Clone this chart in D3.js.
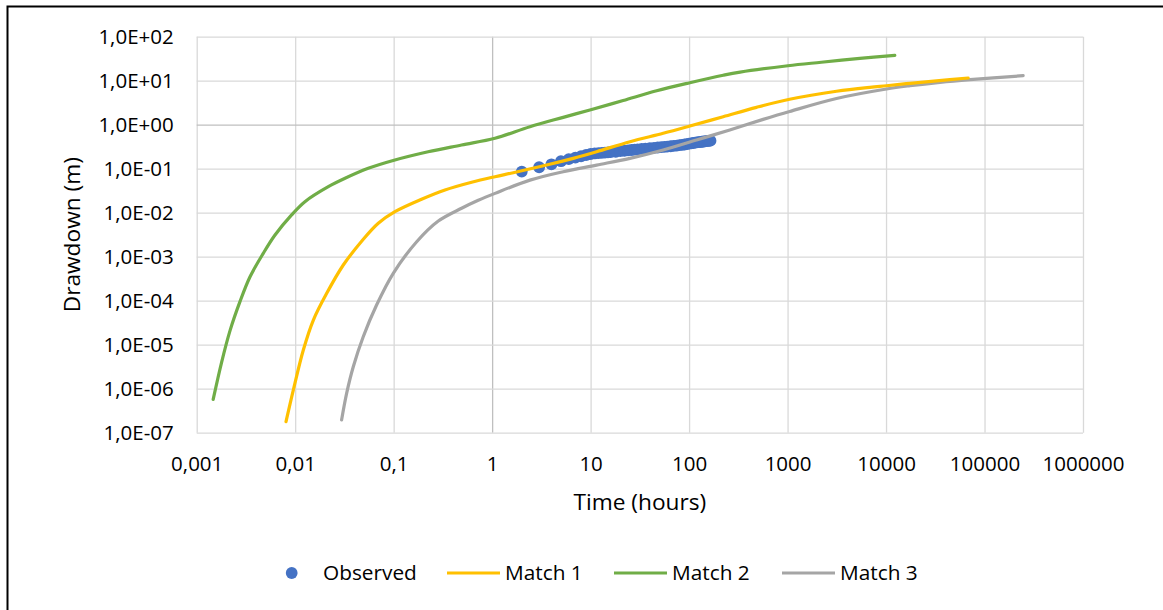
<!DOCTYPE html>
<html>
<head>
<meta charset="utf-8">
<script src="https://cdn.jsdelivr.net/npm/d3@7"></script>
<style>
  html, body { margin: 0; padding: 0; background: #fff; }
  svg { display: block; font-family: "Open Sans", sans-serif; }
  .tick text { fill: #000; }
</style>
</head>
<body>
<svg id="chart" width="1163" height="610"></svg>
<script>
// tick values and their labels (comma decimals as in the original)
const xTicks = [0.001, 0.01, 0.1, 1, 10, 100, 1000, 10000, 100000, 1000000];
const xTickLabels = ['0,001', '0,01', '0,1', '1', '10', '100', '1000', '10000', '100000', '1000000'];
const yTicks = [1e-7, 1e-6, 1e-5, 1e-4, 1e-3, 1e-2, 1e-1, 1e0, 1e1, 1e2];
const yTickLabels = ['1,0E-07', '1,0E-06', '1,0E-05', '1,0E-04', '1,0E-03', '1,0E-02', '1,0E-01', '1,0E+00', '1,0E+01', '1,0E+02'];

// Observed drawdown (hours, m)
const obsTime = [2, 3, 4, 5, 6, 7, 8, 9, 10, 11, 12, 13, 14, 15, 16, 18, 20, 22, 24, 26, 28, 30, 33, 36, 40, 44, 48,
  52, 56, 60, 65, 70, 75, 80, 85, 90, 95, 100, 105, 110, 115, 120, 125, 130, 135, 140, 145, 150, 155, 160, 165];
const obsDrawdown = [0.086, 0.108, 0.126, 0.148, 0.165, 0.178, 0.192, 0.205, 0.216, 0.222, 0.226, 0.230, 0.233, 0.236,
  0.238, 0.243, 0.250, 0.256, 0.262, 0.266, 0.270, 0.275, 0.281, 0.286, 0.293, 0.298, 0.303, 0.309, 0.314, 0.318,
  0.324, 0.330, 0.336, 0.343, 0.349, 0.355, 0.362, 0.370, 0.377, 0.384, 0.390, 0.395, 0.400, 0.405, 0.410, 0.415,
  0.420, 0.424, 0.428, 0.431, 0.434];

// Match 1
const m1Time = [0.00807, 0.00957, 0.0121, 0.0153, 0.0209, 0.0308, 0.0473, 0.0698, 0.103, 0.192, 0.332, 0.619, 1.07,
  1.64, 3.57, 6.65, 11.5, 25.1, 54.6, 101.9, 222, 484, 1050, 3141, 6855, 10100, 17500, 32580, 68230];
const m1Drawdown = [1.78e-7, 9.3e-7, 7.6e-6, 3.64e-5, 1.47e-4, 6.47e-4, 2.24e-3, 5.74e-3, 0.01054, 0.0202, 0.0328,
  0.0491, 0.0658, 0.0811, 0.121, 0.172, 0.243, 0.411, 0.638, 0.933, 1.52, 2.48, 3.78, 5.75, 7.08, 7.69, 8.71, 9.9, 11.5];

// Match 2
const m2Time = [0.00147, 0.00179, 0.00218, 0.00275, 0.00348, 0.00474, 0.00624, 0.0092, 0.01256, 0.0217, 0.0321,
  0.0552, 0.103, 0.224, 0.49, 1.07, 2.42, 5.27, 9.84, 21.4, 46.8, 101.9, 222, 330, 1007, 2200, 5420, 12270];
const m2Drawdown = [5.7e-7, 3.98e-6, 2.09e-5, 9.5e-5, 3.5e-4, 1.19e-3, 3.11e-3, 8.9e-3, 0.0178, 0.039, 0.0605,
  0.102, 0.158, 0.243, 0.346, 0.491, 0.90, 1.47, 2.16, 3.55, 5.9, 9.0, 13.3, 15.7, 21.9, 26.3, 32.3, 37.8];

// Match 3
const m3Time = [0.0296, 0.0333, 0.0389, 0.0491, 0.0671, 0.0991, 0.1714, 0.284, 0.490, 0.723, 1.07, 2.42, 5.27,
  11.5, 25.1, 54.6, 119, 259, 565, 1050, 3140, 10100, 17500, 35200, 71000, 246600];
const m3Drawdown = [1.95e-7, 7.85e-7, 3.16e-6, 1.52e-5, 7.98e-5, 4.2e-4, 2.19e-3, 6.46e-3, 0.0126, 0.0191,
  0.0275, 0.055, 0.0855, 0.121, 0.172, 0.266, 0.449, 0.759, 1.32, 2.0, 3.94, 6.47, 7.69, 9.2, 10.6, 13.0];

const svg = d3.select('#chart');

// outer chart frame
svg.append('rect')
  .attr('x', 7.5).attr('y', 6.5)
  .attr('width', 1170).attr('height', 640)
  .attr('fill', 'none').attr('stroke', '#000').attr('stroke-width', 2);

const plot = { left: 196.7, right: 1083, top: 36.7, bottom: 432.7 };

const x = d3.scaleLog().domain([0.001, 1000000]).range([plot.left, plot.right]);
const y = d3.scaleLog().domain([1e-7, 100]).range([plot.bottom, plot.top]);

// gridlines (the lines through 1 are the axis crossings, a bit darker)
svg.append('g')
  .attr('transform', `translate(0,${plot.bottom})`)
  .call(d3.axisBottom(x).tickValues(xTicks).tickSize(-(plot.bottom - plot.top)).tickFormat(''))
  .call(g => g.select('.domain').remove())
  .call(g => g.selectAll('line').attr('stroke', d => d === 1 ? '#bfbfbf' : '#d9d9d9').attr('stroke-width', 1.3));

svg.append('g')
  .attr('transform', `translate(${plot.left},0)`)
  .call(d3.axisLeft(y).tickValues(yTicks).tickSize(-(plot.right - plot.left)).tickFormat(''))
  .call(g => g.select('.domain').remove())
  .call(g => g.selectAll('line').attr('stroke', d => d === 1 ? '#bfbfbf' : '#d9d9d9').attr('stroke-width', 1.3));

// tick labels
svg.append('g')
  .attr('transform', `translate(0,${plot.bottom + 20})`)
  .call(d3.axisBottom(x).tickValues(xTicks).tickSize(0).tickFormat((d, i) => xTickLabels[i]))
  .call(g => g.select('.domain').remove())
  .call(g => g.selectAll('text').attr('font-size', 20.5).attr('font-family', '"Open Sans", sans-serif').attr('dy', '0.35em').attr('y', 11));

svg.append('g')
  .attr('transform', `translate(${plot.left - 23},0)`)
  .call(d3.axisLeft(y).tickValues(yTicks).tickSize(0).tickFormat((d, i) => yTickLabels[i]))
  .call(g => g.select('.domain').remove())
  .call(g => g.selectAll('text').attr('font-size', 20.5).attr('font-family', '"Open Sans", sans-serif').attr('x', 0));

// axis titles
svg.append('text')
  .attr('x', (plot.left + plot.right) / 2).attr('y', 502)
  .attr('text-anchor', 'middle').attr('dy', '0.35em')
  .attr('font-size', 22.7).text('Time (hours)');

svg.append('text')
  .attr('transform', `translate(72,${(plot.top + plot.bottom) / 2}) rotate(-90)`)
  .attr('text-anchor', 'middle').attr('dy', '0.35em')
  .attr('font-size', 22.7).text('Drawdown (m)');

// curves
const line = d3.line()
  .x(d => x(d[0]))
  .y(d => y(d[1]))
  .curve(d3.curveCatmullRom.alpha(0.5));

const matches = [
  { name: 'Match 1', time: m1Time, dd: m1Drawdown, color: '#FFC000' },
  { name: 'Match 2', time: m2Time, dd: m2Drawdown, color: '#70AD47' },
  { name: 'Match 3', time: m3Time, dd: m3Drawdown, color: '#A5A5A5' }
];

// observed points drawn first, then lines on top (as in the original)
svg.append('g').selectAll('circle')
  .data(obsTime.map((t, i) => [t, obsDrawdown[i]]))
  .enter()
  .append('circle')
  .attr('cx', d => x(d[0]))
  .attr('cy', d => y(d[1]))
  .attr('r', 5.9)
  .attr('fill', '#4472C4');

// match 3 sits under match 1 near the tail end
[matches[2], matches[1], matches[0]].forEach(m => {
  svg.append('path')
    .datum(m.time.map((t, i) => [t, m.dd[i]]))
    .attr('d', line)
    .attr('fill', 'none')
    .attr('stroke', m.color)
    .attr('stroke-width', 3.2)
    .attr('stroke-linecap', 'round')
    .attr('stroke-linejoin', 'round');
});

// legend
const legendY = 573;
const legend = svg.append('g').attr('font-size', 20.8);

legend.append('circle').attr('cx', 291.7).attr('cy', legendY).attr('r', 5.9).attr('fill', '#4472C4');
legend.append('text').attr('x', 323).attr('y', legendY).attr('dy', '0.35em').text('Observed');

const legendLineX = [447, 614, 782];
matches.forEach((m, i) => {
  legend.append('line')
    .attr('x1', legendLineX[i]).attr('x2', legendLineX[i] + 53)
    .attr('y1', legendY).attr('y2', legendY)
    .attr('stroke', m.color).attr('stroke-width', 3.2);
  legend.append('text')
    .attr('x', legendLineX[i] + 58).attr('y', legendY).attr('dy', '0.35em')
    .text(m.name);
});
</script>
</body>
</html>
